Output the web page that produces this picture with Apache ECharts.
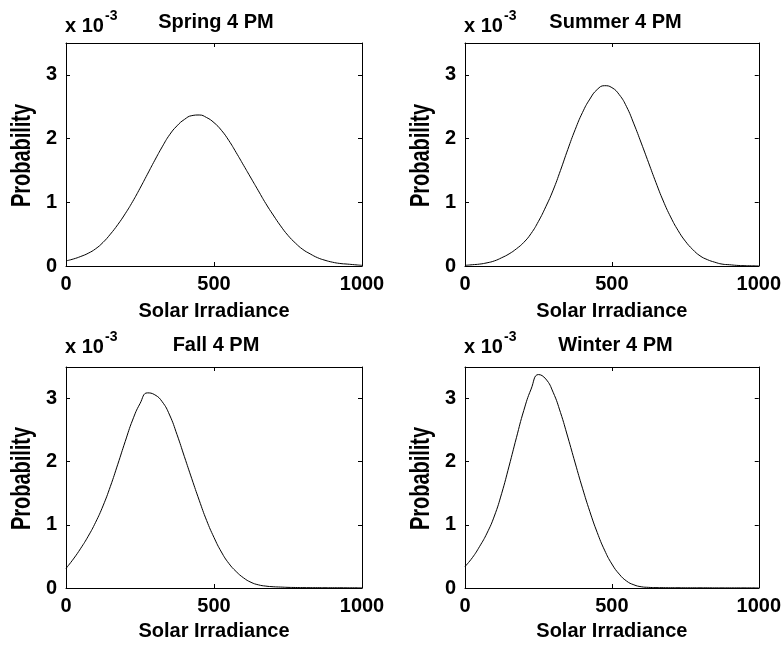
<!DOCTYPE html>
<html>
<head>
<meta charset="utf-8">
<script src="https://cdn.jsdelivr.net/npm/echarts@6/dist/echarts.min.js"></script>
<style>
html,body{margin:0;padding:0;background:#fff;}
#chart{width:784px;height:647px;}
</style>
</head>
<body>
<div id="chart"></div>
<script>
// ---- DATA (probability values in units of 10^-3) ----
const irradiance = [0,25,50,75,100,125,150,175,200,225,250,275,300,325,350,375,400,425,450,475,500,
  525,550,575,600,625,650,675,700,725,750,775,800,825,850,875,900,925,950,975,1000];

const springProb = [0.08,0.11,0.15,0.20,0.27,0.37,0.50,0.65,0.82,1.01,1.22,1.44,1.66,1.87,2.06,2.20,2.30,2.36,2.37,2.33,2.25,
  2.13,1.97,1.78,1.58,1.38,1.18,0.98,0.80,0.63,0.48,0.36,0.26,0.19,0.13,0.09,0.06,0.04,0.03,0.02,0.01];

const summerProb = [0.01,0.02,0.03,0.05,0.08,0.13,0.19,0.27,0.37,0.51,0.70,0.93,1.19,1.50,1.83,2.14,2.41,2.62,2.77,2.83,2.80,
  2.69,2.50,2.23,1.93,1.62,1.31,1.02,0.77,0.56,0.39,0.26,0.16,0.10,0.06,0.03,0.02,0.01,0.005,0.003,0.002];

const fallProb = [0.31,0.46,0.63,0.82,1.04,1.30,1.61,1.96,2.32,2.66,2.92,3.09,3.06,2.95,2.74,2.43,2.08,1.73,1.39,1.07,0.80,
  0.57,0.39,0.26,0.16,0.09,0.05,0.03,0.02,0.015,0.01,0.008,0.006,0.005,0.005,0.004,0.004,0.004,0.003,0.003,0.003];

const winterProb = [0.34,0.48,0.66,0.87,1.14,1.50,1.93,2.38,2.81,3.15,3.38,3.31,3.10,2.78,2.39,1.98,1.58,1.21,0.88,0.60,0.38,
  0.22,0.11,0.05,0.02,0.01,0.006,0.005,0.004,0.004,0.003,0.003,0.003,0.003,0.002,0.002,0.002,0.002,0.002,0.002,0.002];

const panelTitles = ['Spring 4 PM','Summer 4 PM','Fall 4 PM','Winter 4 PM'];
const panelSeries = [springProb, summerProb, fallProb, winterProb];
const xTicks = [0, 500, 1000];
const yTicks = [0, 1, 2, 3];
const xName = 'Solar Irradiance';
const yName = 'Probability';
const scaleText = 'x 10';
const scaleExp = '-3';

// ---- LAYOUT ----
const boxes = [
  {left:66,  top:43,  width:296, height:223, nameGap:35, titleTop:7,   scaleTop:16},
  {left:465, top:43,  width:297, height:223, nameGap:35, titleTop:7,   scaleTop:16},
  {left:66,  top:367, width:296, height:221, nameGap:33, titleTop:330, scaleTop:337},
  {left:465, top:367, width:297, height:221, nameGap:33, titleTop:330, scaleTop:337}
];
const FONT = '"Liberation Sans", Arial, sans-serif';

const chart = echarts.init(document.getElementById('chart'), null, {renderer:'canvas'});

const grid = [], xAxis = [], yAxis = [], series = [], title = [], graphic = [];
boxes.forEach((b, i) => {
  grid.push({left:b.left, top:b.top, width:b.width, height:b.height, containLabel:false});
  const axisLine = {show:true, onZero:false, lineStyle:{color:'#000', width:1}};
  const tick = {show:true, inside:true, length:4, lineStyle:{color:'#000', width:1}};
  xAxis.push({
    type:'value', gridIndex:i, position:'bottom', min:0, max:1000, interval:500,
    axisLine, axisTick:tick, splitLine:{show:false},
    axisLabel:{show:true, color:'#000', fontFamily:FONT, fontWeight:'bold', fontSize:20, margin:8,
      customValues: xTicks, formatter: v => String(v)},
    name:xName, nameLocation:'middle', nameGap:b.nameGap,
    nameTextStyle:{color:'#000', fontFamily:FONT, fontWeight:'bold', fontSize:20}
  });
  xAxis.push({
    type:'value', gridIndex:i, position:'top', min:0, max:1000, interval:500,
    axisLine, axisTick:tick, axisLabel:{show:false}, splitLine:{show:false}
  });
  yAxis.push({
    type:'value', gridIndex:i, position:'left', min:0, max:3.5, interval:1,
    axisLine, axisTick:Object.assign({}, tick, {customValues:yTicks}), splitLine:{show:false},
    axisLabel:{show:true, color:'#000', fontFamily:FONT, fontWeight:'bold', fontSize:20, margin:9,
      customValues:yTicks, formatter: v => String(v)}
  });
  yAxis.push({
    type:'value', gridIndex:i, position:'right', min:0, max:3.5, interval:1,
    axisLine, axisTick:Object.assign({}, tick, {customValues:yTicks}), axisLabel:{show:false}, splitLine:{show:false}
  });
  series.push({
    type:'line', xAxisIndex:2*i, yAxisIndex:2*i, name:panelTitles[i],
    data: irradiance.map((x, k) => [x, panelSeries[i][k]]),
    showSymbol:false, smooth:0.5, clip:true,
    lineStyle:{color:'#000', width:1}
  });
  title.push({
    text:panelTitles[i], left:b.left + b.width/2 - 3, top:b.titleTop, textAlign:'center',
    textStyle:{color:'#000', fontFamily:FONT, fontWeight:'bold', fontSize:20}
  });
  graphic.push({
    type:'text', x:b.left - 1, y:b.scaleTop,
    style:{text:scaleText, fill:'#000', font:'bold 20px ' + FONT, textVerticalAlign:'top'}
  });
  graphic.push({
    type:'text', x:b.left + 39, y:b.scaleTop - 7,
    style:{text:scaleExp, fill:'#000', font:'bold 14px ' + FONT, textVerticalAlign:'top'}
  });
  graphic.push({
    type:'text', x:b.left - 43, y:b.top + b.height/2 + 1, rotation:Math.PI/2, scaleX:0.74, scaleY:1,
    style:{text:yName, fill:'#000', font:'bold 27px ' + FONT, textAlign:'center', textVerticalAlign:'middle'}
  });
});

chart.setOption({
  animation:false,
  backgroundColor:'#fff',
  title, grid, xAxis, yAxis, series, graphic
});
</script>
</body>
</html>
